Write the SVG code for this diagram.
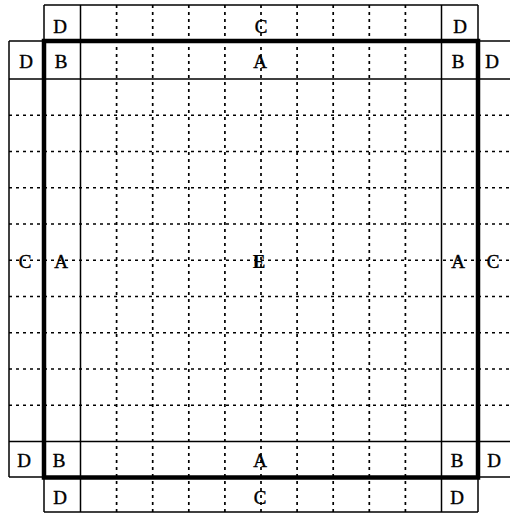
<svg xmlns="http://www.w3.org/2000/svg" width="510" height="514" viewBox="0 0 510 514">
<style>
.thin{stroke:#000;stroke-width:1.5;fill:none}
.thick{stroke:#000;stroke-width:4.5;fill:none;stroke-linecap:square}
.dash{stroke:#000;stroke-width:1.7;fill:none;stroke-dasharray:3 4}
text{font-family:"Liberation Serif","Times New Roman",serif;font-size:19px;fill:#000;stroke:#000;stroke-width:0.4;text-anchor:middle}
.bold{font-weight:bold;stroke-width:0.2}
</style>
<rect width="510" height="514" fill="#fff"/>
<g id="connectors">
  <g class="dash">
    <line x1="116.6" y1="5" x2="116.6" y2="512"/>
    <line x1="152.7" y1="5" x2="152.7" y2="512"/>
    <line x1="188.8" y1="5" x2="188.8" y2="512"/>
    <line x1="224.9" y1="5" x2="224.9" y2="512"/>
    <line x1="261" y1="5" x2="261" y2="512"/>
    <line x1="297.1" y1="5" x2="297.1" y2="512"/>
    <line x1="333.2" y1="5" x2="333.2" y2="512"/>
    <line x1="369.3" y1="5" x2="369.3" y2="512"/>
    <line x1="405.4" y1="5" x2="405.4" y2="512"/>
  </g>
  <g class="dash">
    <line x1="9" y1="115.25" x2="512" y2="115.25"/>
    <line x1="9" y1="151.5" x2="512" y2="151.5"/>
    <line x1="9" y1="187.75" x2="512" y2="187.75"/>
    <line x1="9" y1="224" x2="512" y2="224"/>
    <line x1="9" y1="260.25" x2="512" y2="260.25"/>
    <line x1="9" y1="296.5" x2="512" y2="296.5"/>
    <line x1="9" y1="332.75" x2="512" y2="332.75"/>
    <line x1="9" y1="369" x2="512" y2="369"/>
    <line x1="9" y1="405.25" x2="512" y2="405.25"/>
  </g>
  <g class="thin">
    <line x1="44" y1="5" x2="478" y2="5"/>
    <line x1="44" y1="512" x2="478" y2="512"/>
    <line x1="44" y1="5" x2="44" y2="41"/>
    <line x1="478" y1="5" x2="478" y2="41"/>
    <line x1="44" y1="477" x2="44" y2="512"/>
    <line x1="478" y1="477" x2="478" y2="512"/>
    <line x1="80.5" y1="5" x2="80.5" y2="512"/>
    <line x1="441.5" y1="5" x2="441.5" y2="512"/>
    <line x1="9" y1="79" x2="512" y2="79"/>
    <line x1="9" y1="441.5" x2="512" y2="441.5"/>
    <line x1="9" y1="41" x2="9" y2="477"/>
    <line x1="9" y1="41" x2="44" y2="41"/>
    <line x1="9" y1="477" x2="44" y2="477"/>
    <line x1="478" y1="41" x2="512" y2="41"/>
    <line x1="478" y1="477" x2="512" y2="477"/>
  </g>
  <rect class="thick" x="44" y="41" width="434" height="436.5"/>
</g>
<g id="D-top-left"><text x="60" y="33">D</text></g>
<g id="C-top"><text x="261" y="33">C</text></g>
<g id="D-top-right"><text x="460" y="33">D</text></g>
<g id="D-left-top"><text x="26" y="68">D</text></g>
<g id="B-top-left"><text x="61" y="68">B</text></g>
<g id="A-top"><text x="260" y="68">A</text></g>
<g id="B-top-right"><text x="458" y="68">B</text></g>
<g id="D-right-top"><text x="492" y="68">D</text></g>
<g id="C-left"><text x="25" y="268">C</text></g>
<g id="A-left"><text x="61" y="268">A</text></g>
<g id="E-center"><text class="bold" x="259" y="268">E</text></g>
<g id="A-right"><text x="458" y="268">A</text></g>
<g id="C-right"><text x="493" y="268">C</text></g>
<g id="D-left-bottom"><text x="24" y="467">D</text></g>
<g id="B-bottom-left"><text x="59" y="467">B</text></g>
<g id="A-bottom"><text x="260" y="467">A</text></g>
<g id="B-bottom-right"><text x="457" y="467">B</text></g>
<g id="D-right-bottom"><text x="494" y="467">D</text></g>
<g id="D-bottom-left"><text x="60" y="504">D</text></g>
<g id="C-bottom"><text x="260" y="504">C</text></g>
<g id="D-bottom-right"><text x="457" y="504">D</text></g>
</svg>
